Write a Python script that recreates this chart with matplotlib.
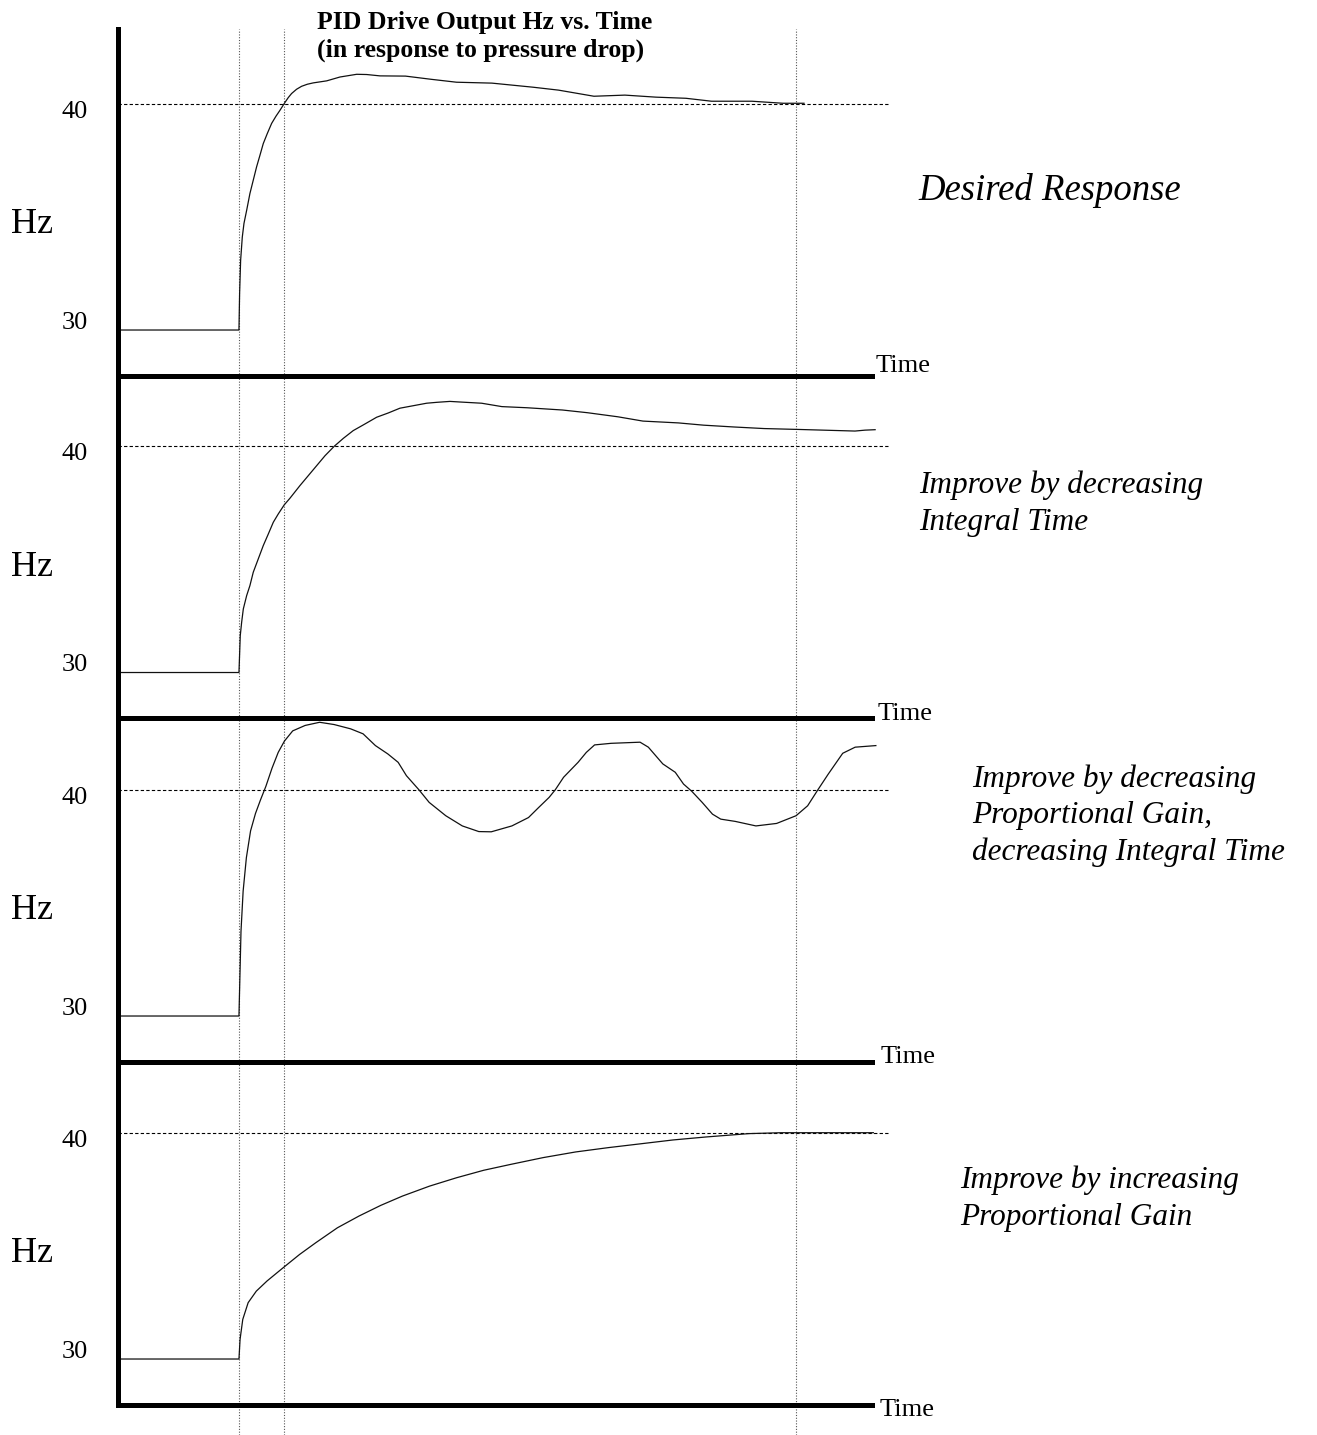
import numpy as np
import matplotlib.pyplot as plt
from matplotlib.transforms import blended_transform_factory

plt.rcParams['font.family'] = ['Liberation Serif', 'DejaVu Serif']

W, H, DPI = 1317, 1435, 100

# time is in arbitrary units, the pressure drop (step) happens at t = 0
t_desired = [-13.0, 0, 0.07, 0.18, 0.36, 0.54, 0.83, 1.18, 1.54, 1.90, 2.26, 2.62,
             3.05, 3.52, 3.99, 4.42, 4.88, 5.31, 5.67, 6.21, 6.75, 7.36, 8.0, 9.45,
             10.88, 12.68, 13.76, 15.19, 17.94, 20.68, 23.43, 27.25, 31.67, 34.43,
             38.24, 41.58, 44.92, 48.15, 50.91, 55.26, 58.6, 60.87]
hz_desired = [30, 30, 31.61, 33.08, 34.11, 34.71, 35.29, 36.03, 36.62, 37.21, 37.72, 38.24,
              38.68, 39.13, 39.45, 39.71, 40.01, 40.27, 40.45, 40.64, 40.77, 40.86, 40.92, 41.01,
              41.18, 41.30, 41.29, 41.23, 41.22, 41.08, 40.95, 40.91, 40.73, 40.60,
              40.33, 40.38, 40.29, 40.24, 40.11, 40.11, 40.02, 40.02]

t_slow_int = [-13.0, 0, 0.04, 0.14, 0.29, 0.47, 0.83, 1.18, 1.54, 2.08, 2.62, 3.16,
              3.70, 4.24, 4.88, 5.49, 6.57, 7.47, 8.37, 9.27, 10.27, 11.25, 12.31,
              13.39, 14.83, 16.09, 17.34, 18.78, 20.22, 21.33, 22.73, 23.97, 26.14,
              28.32, 31.02, 34.84, 37.55, 40.82, 43.52, 47.33, 50.05, 53.31, 56.58,
              60.38, 66.36, 67.44, 68.53]
hz_slow_int = [30, 30, 30.45, 31.63, 32.22, 32.81, 33.40, 33.84, 34.43, 35.02, 35.61, 36.12,
               36.64, 37.01, 37.41, 37.70, 38.26, 38.70, 39.14, 39.58, 40.0, 40.35, 40.69,
               40.94, 41.28, 41.47, 41.68, 41.79, 41.90, 41.94, 41.98, 41.95, 41.90,
               41.75, 41.70, 41.60, 41.48, 41.30, 41.11, 41.03, 40.93, 40.85, 40.78,
               40.74, 40.67, 40.71, 40.73]

t_oscill = [-13.0, 0, 0.09, 0.22, 0.45, 0.80, 1.25, 1.78, 2.32, 2.90, 3.56, 4.23,
            4.90, 5.79, 7.13, 8.69, 10.25, 12.03, 13.37, 14.70, 16.04, 17.15, 18.04,
            19.38, 20.49, 22.28, 24.06, 25.84, 27.18, 29.40, 31.19, 32.30, 33.41,
            34.08, 34.97, 36.53, 37.42, 38.31, 40.09, 43.21, 44.10, 45.66, 47.00,
            47.89, 48.78, 49.90, 51.01, 51.90, 53.46, 55.69, 57.92, 60.01, 61.26,
            62.37, 63.48, 65.04, 66.38, 68.61]
hz_oscill = [30, 30, 31.53, 33.75, 35.52, 37.0, 38.18, 38.95, 39.55, 40.15, 40.95, 41.65,
             42.15, 42.60, 42.84, 42.98, 42.88, 42.69, 42.47, 41.95, 41.58, 41.21, 40.62,
             40.0, 39.44, 38.85, 38.40, 38.15, 38.14, 38.40, 38.77, 39.22, 39.66,
             40.0, 40.55, 41.21, 41.65, 41.98, 42.05, 42.10, 41.88, 41.14, 40.77,
             40.25, 39.93, 39.44, 38.92, 38.70, 38.60, 38.40, 38.51, 38.85, 39.29,
             40.0, 40.69, 41.61, 41.88, 41.95]

t_low_gain = [-13.0, 0, 0.12, 0.41, 0.99, 1.87, 3.03, 4.78, 6.53, 8.28, 10.61, 12.94,
              15.28, 17.61, 20.53, 23.44, 26.36, 29.27, 32.77, 36.27, 39.77, 43.27,
              46.76, 50.26, 54.93, 58.43, 68.34]
hz_low_gain = [30, 30, 30.87, 31.75, 32.49, 33.0, 33.45, 34.04, 34.62, 35.14, 35.80, 36.32,
               36.79, 37.20, 37.64, 38.01, 38.34, 38.60, 38.90, 39.15, 39.34, 39.51,
               39.68, 39.81, 39.96, 40.0, 40.0]

series_t = [t_desired, t_slow_int, t_oscill, t_low_gain]
series_hz = [hz_desired, hz_slow_int, hz_oscill, hz_low_gain]

notes = [
    ["Desired Response"],
    ["Improve by decreasing", "Integral Time"],
    ["Improve by decreasing", "Proportional Gain,", "decreasing Integral Time"],
    ["Improve by increasing", "Proportional Gain"],
]

event_times = [0, 4.9, 60]
setpoint = 40
hz_ticks = [30, 40]
title_lines = ["PID Drive Output Hz vs. Time", "(in response to pressure drop)"]

# layout (pixels)
T0, T1, T_AXIS_END = -13.03, 70.0, 68.2
PX_PER_T = 9.283
PX_PER_HZ = 22.63
Y_LO = 27.99
AX_LEFT = 118
panel_rows = [(29, 375.5), (375.5, 718), (718, 1061.5), (1061.5, 1404.5)]
note_x = [918, 919, 972, 960]
note_base = [[200], [493, 530], [787, 823, 860], [1188, 1225]]
note_size = [26.5, 22.5, 22.5, 22.5]
time_x = [876, 878, 881, 880]
time_drop = [-3.8, 1.7, 1.2, 11]


def fx(px):
    return px / W


def fy(py):
    return 1 - py / H


fig = plt.figure(figsize=(W / DPI, H / DPI), dpi=DPI)
ax_w = (T1 - T0) * PX_PER_T

# dotted event lines running through the whole stack
ov = fig.add_axes([fx(AX_LEFT), 0, ax_w / W, fy(29)], zorder=0)
ov.set_xlim(T0, T1)
ov.set_ylim(0, 1)
ov.axis('off')
for te in event_times:
    ov.axvline(te, color='#555555', lw=0.8, linestyle=(0, (1, 1.5)))

for i in range(4):
    top, bot = panel_rows[i]
    ax = fig.add_axes([fx(AX_LEFT), fy(bot), ax_w / W, (bot - top) / H], zorder=1)
    ax.set_facecolor('none')
    ax.set_xlim(T0, T1)
    ax.set_ylim(Y_LO, Y_LO + (bot - top) / PX_PER_HZ)
    for s in ['top', 'right']:
        ax.spines[s].set_visible(False)
    ax.spines['left'].set_linewidth(3.6)
    ax.spines['bottom'].set_linewidth(3.6)
    ax.spines['bottom'].set_bounds(T0, T_AXIS_END)
    ax.set_xticks([])
    ax.set_yticks([])

    ax.hlines(setpoint, T0, 69.9, color='black', lw=0.8, linestyle=(0, (3, 2)))
    ax.plot(series_t[i], series_hz[i], color='#111111', lw=0.9,
            solid_joinstyle='round')

    tr = blended_transform_factory(fig.transFigure, ax.transData)
    ax.text(fx(11), 34.28, "Hz", transform=tr, fontsize=26, va='baseline', ha='left')
    ax.text(fx(87.5), 39.39, str(hz_ticks[1]), transform=tr, fontsize=19,
            va='baseline', ha='right')
    ax.text(fx(87.5), 30.05, str(hz_ticks[0]), transform=tr, fontsize=19,
            va='baseline', ha='right')

    fig.text(fx(time_x[i]), fy(bot + time_drop[i]), "Time", fontsize=19,
             va='baseline', ha='left')
    for line, yb in zip(notes[i], note_base[i]):
        fig.text(fx(note_x[i]), fy(yb), line, fontsize=note_size[i],
                 style='italic', va='baseline', ha='left')

fig.text(fx(317), fy(29), title_lines[0], fontsize=18.5, fontweight='bold',
         va='baseline', ha='left')
fig.text(fx(317), fy(57), title_lines[1], fontsize=18.5, fontweight='bold',
         va='baseline', ha='left')

fig.savefig("out.png", dpi=DPI, facecolor='white')
